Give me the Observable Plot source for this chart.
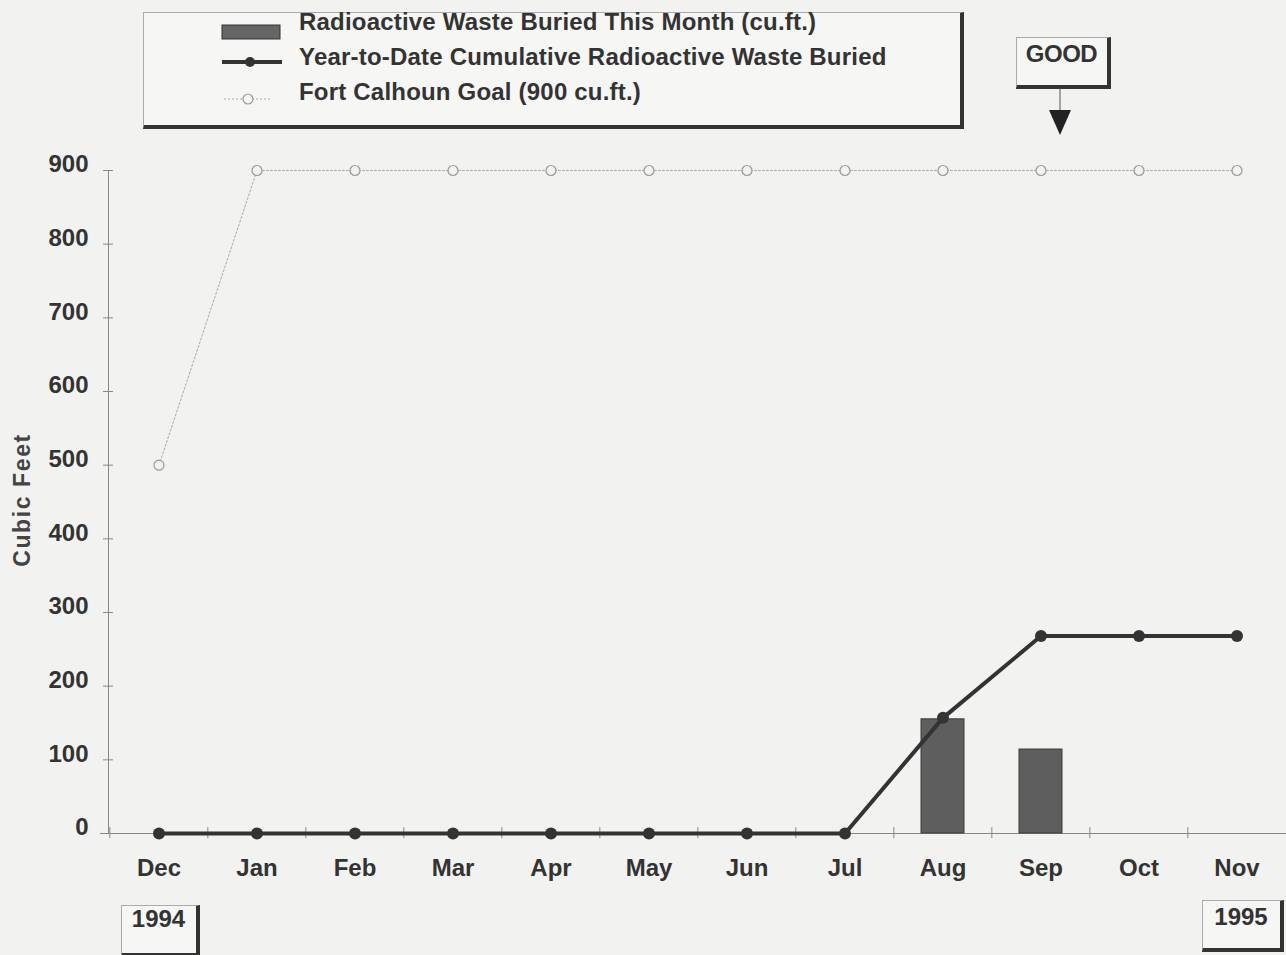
<!DOCTYPE html>
<html>
<head>
<meta charset="utf-8">
<script src="https://cdn.jsdelivr.net/npm/d3@7"></script>
<script src="https://cdn.jsdelivr.net/npm/@observablehq/plot@0.6"></script>
<style>
  html, body { margin: 0; padding: 0; background: #f2f2f0; }
  #wrap { position: relative; width: 1286px; height: 955px; overflow: hidden;
          font-family: "Liberation Sans", Arial, sans-serif; font-weight: bold; color: #333; }
  #chart { position: absolute; left: 0; top: 0; }
  .box { position: absolute; box-sizing: border-box; border-top: 1px solid #aaa; border-left: 1px solid #aaa;
         border-right: 4px solid #333; border-bottom: 4px solid #333; background: #f6f6f4; }
  .abs { position: absolute; white-space: nowrap; }
  .leg { font-size: 24px; letter-spacing: 0.2px; line-height: 1; }
</style>
</head>
<body>
<div id="wrap">
  <div id="chart"></div>
  <div class="box" style="left:143px; top:12px; width:821px; height:117px;"></div>
  <svg class="abs" style="left:220px; top:20px;" width="70" height="95">
    <rect x="2" y="5" width="58" height="14" fill="#666" stroke="#333" stroke-width="1"/>
    <line x1="2" y1="42" x2="62" y2="42" stroke="#333" stroke-width="4"/>
    <circle cx="30" cy="42" r="5" fill="#333"/>
    <line x1="4" y1="79" x2="52" y2="79" stroke="#aaa" stroke-width="1" stroke-dasharray="2,2"/>
    <circle cx="28" cy="79" r="5" fill="#f6f6f4" stroke="#999" stroke-width="1.2"/>
  </svg>
  <div class="abs leg" id="l1" style="left:299px; top:10px;"></div>
  <div class="abs leg" id="l2" style="left:299px; top:45px;"></div>
  <div class="abs leg" id="l3" style="left:299px; top:80px;"></div>

  <div class="box" style="left:1016px; top:37px; width:95px; height:52px;"></div>
  <div class="abs" id="good" style="left:1016px; top:40px; width:91px; text-align:center; font-size:24px; letter-spacing:-0.5px;"></div>
  <svg class="abs" style="left:1040px; top:88px;" width="40" height="50">
    <line x1="20" y1="0" x2="20" y2="24" stroke="#555" stroke-width="1"/>
    <polygon points="9,22 31,22 20,47" fill="#222"/>
  </svg>

  <div class="box" style="left:121px; top:905px; width:79px; height:52px;"></div>
  <div class="abs" id="y1" style="left:121px; top:905px; width:75px; text-align:center; font-size:24px;"></div>
  <div class="box" style="left:1202px; top:900px; width:82px; height:52px;"></div>
  <div class="abs" id="y2" style="left:1202px; top:903px; width:78px; text-align:center; font-size:24px;"></div>

  <div class="abs" id="ylab" style="left:22px; top:500px; transform: translate(-50%,-50%) rotate(-90deg); font-size:23px; font-weight:bold; letter-spacing:1.6px; color:#444;"></div>
</div>
<script>
// ---- data ----
const months = ["Dec","Jan","Feb","Mar","Apr","May","Jun","Jul","Aug","Sep","Oct","Nov"];
const monthlyBuried = [0, 0, 0, 0, 0, 0, 0, 0, 155, 114, 0, 0];
const cumulativeBuried = [0, 0, 0, 0, 0, 0, 0, 0, 157, 268, 268, 268];
const goal = [500, 900, 900, 900, 900, 900, 900, 900, 900, 900, 900, 900];
const yTicks = [0, 100, 200, 300, 400, 500, 600, 700, 800, 900];
const legendLabels = ["Radioactive Waste Buried This Month (cu.ft.)",
                      "Year-to-Date Cumulative Radioactive Waste Buried",
                      "Fort Calhoun Goal  (900 cu.ft.)"];
const yLabel = "Cubic Feet";
const yearLabels = ["1994", "1995"];
const goodLabel = "GOOD";

// ---- tables ----
const bars = months.map((m, i) => ({month: m, value: monthlyBuried[i]})).filter(d => d.value > 0);
const cum = months.map((m, i) => ({month: m, value: cumulativeBuried[i]}));
const goalData = months.map((m, i) => ({month: m, value: goal[i]}));

const step = (1288 - 108) / months.length;

const chart = Plot.plot({
  width: 1286,
  height: 955,
  marginTop: 170,
  marginBottom: 122,
  marginLeft: 108,
  marginRight: 0,
  style: {background: "transparent", fontFamily: "'Liberation Sans', Arial, sans-serif", fontWeight: "bold", color: "#333", overflow: "visible"},
  x: {type: "band", domain: months, range: [108, 1288], paddingInner: 0.56, paddingOuter: 0.28, label: null},
  y: {domain: [0, 900], label: null},
  marks: [
    Plot.frame({anchor: "left", stroke: "#888"}),
    Plot.ruleY([0], {stroke: "#888", insetLeft: -8}),
    Plot.ruleX(months, {x: d => d, y1: -7, y2: 8, dx: -step / 2, stroke: "#888"}),
    Plot.axisY({ticks: yTicks, tickSize: 10, dx: 5, tickPadding: 15, stroke: "#888", fontSize: 24, label: null}),
    Plot.axisX({tickSize: 0, tickPadding: 25, fontSize: 24, label: null}),
    Plot.barY(bars, {x: "month", y: "value", fill: "#5e5e5e", stroke: "#3a3a3a", strokeWidth: 1}),
    Plot.line(goalData, {x: "month", y: "value", stroke: "#aaa", strokeWidth: 1, strokeDasharray: "2,2"}),
    Plot.dot(goalData, {x: "month", y: "value", r: 5, stroke: "#999", strokeWidth: 1.2, fill: "#f2f2f0"}),
    Plot.line(cum, {x: "month", y: "value", stroke: "#333", strokeWidth: 4}),
    Plot.dot(cum, {x: "month", y: "value", r: 6, fill: "#333"})
  ]
});
document.getElementById("chart").appendChild(chart);
// nudge y tick labels up slightly, as in the reference
chart.querySelectorAll("[aria-label='y-axis tick label'] text").forEach(t => t.setAttribute("dy", "-6"));

document.getElementById("l1").textContent = legendLabels[0];
document.getElementById("l2").textContent = legendLabels[1];
document.getElementById("l3").textContent = legendLabels[2];
document.getElementById("good").textContent = goodLabel;
document.getElementById("y1").textContent = yearLabels[0];
document.getElementById("y2").textContent = yearLabels[1];
document.getElementById("ylab").textContent = yLabel;
</script>
</body>
</html>
